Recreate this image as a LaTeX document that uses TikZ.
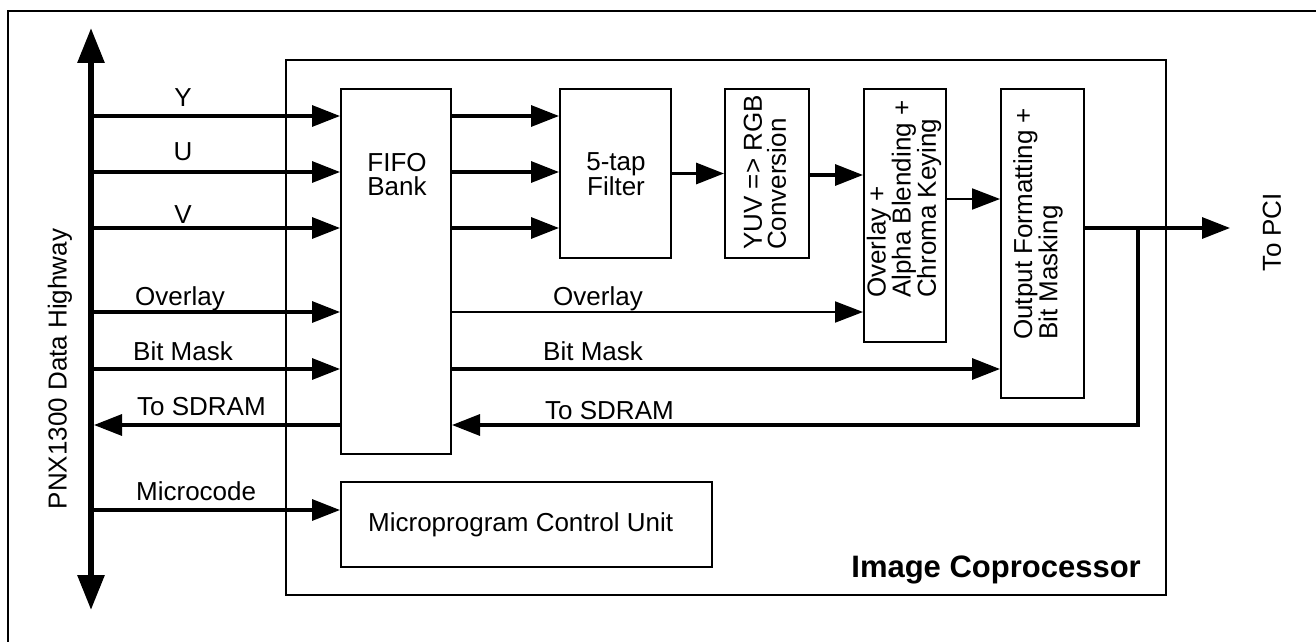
\documentclass[tikz,border=0pt]{standalone}
\usepackage{fontspec}
\setmainfont{Liberation Sans}
\usetikzlibrary{arrows.meta}
\begin{document}
\begin{tikzpicture}[x=1pt,y=-1pt,
  box/.style={draw, line width=2pt, inner sep=0pt, anchor=north west},
  lbl/.style={inner sep=0pt, font=\fontsize{26pt}{24pt}\selectfont},
  bus/.style={line width=3.3pt, -{Triangle[length=28pt,width=21pt]}},
  wire/.style={line width=2pt, -{Triangle[length=28pt,width=21pt]}},
  hwy/.style={line width=6pt, {Triangle[length=35pt,width=26pt]}-{Triangle[length=35pt,width=26pt]}},
  frame/.style={line width=2pt}
]
\useasboundingbox (0,0) rectangle (1316,642);
% outer frame (cropped at right and bottom)
\draw[frame] (1316,11) -- (8,11) -- (8,642);

% boxes
\node[box, minimum width=880pt, minimum height=535pt] (cop) at (285,59) {};
\node[box, minimum width=110pt, minimum height=365pt] (fifo) at (340,88) {};
\node[box, minimum width=111pt, minimum height=169pt] (filt) at (559,88) {};
\node[box, minimum width=84pt, minimum height=169pt] (yuv) at (724,88) {};
\node[box, minimum width=82pt, minimum height=253pt] (ovl) at (863,88) {};
\node[box, minimum width=83pt, minimum height=309pt] (out) at (1000,88) {};
\node[box, minimum width=371pt, minimum height=85pt] (mcu) at (340,481) {};

% box texts
\node[lbl, align=center] (tfifo) at (397,175) {FIFO\\Bank};
\node[lbl, align=center] (tfilt) at (616,174) {5-tap\\Filter};
\node[lbl, rotate=90, anchor=west, align=left] (tyuv) at (765,250) {YUV => RGB\\Conversion};
\node[lbl, rotate=90, anchor=west, align=left] (tovl) at (904,298) {Overlay +\\Alpha Blending +\\Chroma Keying};
\node[lbl, rotate=90, anchor=west, align=left] (tout) at (1038,340) {Output Formatting +\\Bit Masking};
\node[lbl, anchor=base west] (tmcu) at (368,531) {Microprogram Control Unit};
\node[inner sep=0pt, font=\bfseries\fontsize{31pt}{31pt}\selectfont, anchor=base east] (tcop) at (1141,577) {Image Coprocessor};

% highway
\coordinate (hwT) at (91,28);
\coordinate (hwB) at (91,610);
\draw[hwy] (hwT) -- (hwB);
\node[lbl, rotate=90] (thw) at (60,369) {PNX1300 Data Highway};

% rows on the highway
\coordinate (hY) at (91,116);
\coordinate (hU) at (91,172);
\coordinate (hV) at (91,228);
\coordinate (hO) at (91,312);
\coordinate (hB) at (91,369);
\coordinate (hS) at (94,425);
\coordinate (hM) at (91,510);

% inputs from highway
\draw[bus] (hY) -- (hY -| fifo.west);
\draw[bus] (hU) -- (hU -| fifo.west);
\draw[bus] (hV) -- (hV -| fifo.west);
\draw[bus] (hO) -- (hO -| fifo.west);
\draw[bus] (hB) -- (hB -| fifo.west);
\draw[bus] (hS -| fifo.west) -- (hS);
\draw[bus] (hM) -- (hM -| mcu.west);

\node[lbl, anchor=base] (lY) at (183,106) {Y};
\node[lbl, anchor=base] (lU) at (183,160) {U};
\node[lbl, anchor=base] (lV) at (183,223) {V};
\node[lbl, anchor=base west] (lO) at (135,305) {Overlay};
\node[lbl, anchor=base west] (lB) at (133,360) {Bit Mask};
\node[lbl, anchor=base west] (lS) at (137,415) {To SDRAM};
\node[lbl, anchor=base west] (lM) at (136,500) {Microcode};

% FIFO to filter
\draw[bus] (hY -| fifo.east) -- (hY -| filt.west);
\draw[bus] (hU -| fifo.east) -- (hU -| filt.west);
\draw[bus] (hV -| fifo.east) -- (hV -| filt.west);

% pipeline
\coordinate (r175) at (0,175);
\coordinate (r199) at (0,199);
\coordinate (r228) at (0,228);
\draw[bus] (filt.east) -- (yuv.west);
\draw[bus] (r175 -| yuv.east) -- (r175 -| ovl.west);
\draw[wire] (r199 -| ovl.east) -- (r199 -| out.west);

% FIFO direct paths
\draw[wire] (hO -| fifo.east) -- (hO -| ovl.west);
\draw[bus] (hB -| fifo.east) -- (hB -| out.west);
\node[lbl, anchor=base west] (lO2) at (553,305) {Overlay};
\node[lbl, anchor=base west] (lB2) at (543,360) {Bit Mask};

% output
\coordinate (pci) at (1230,228);
\coordinate (br) at (1138,228);
\draw[bus] (r228 -| out.east) -- (pci);
\draw[bus] (br) |- (hS -| fifo.east);
\node[lbl, anchor=base west] (lS2) at (545,419) {To SDRAM};
\node[lbl, rotate=90] (tpci) at (1272,232) {To PCI};
\end{tikzpicture}
\end{document}
